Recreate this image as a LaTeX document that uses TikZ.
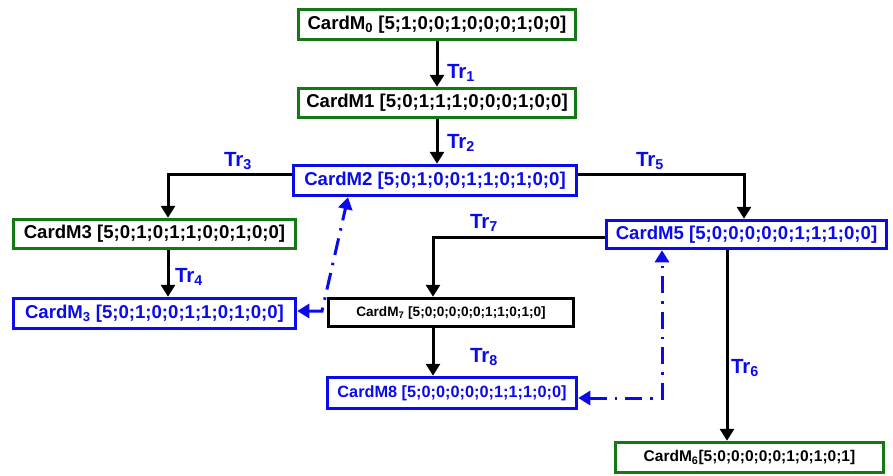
\documentclass[tikz,border=0pt]{standalone}
\usepackage{fontspec}
\setmainfont{Liberation Sans}
\usetikzlibrary{arrows.meta}
\definecolor{bgreen}{RGB}{20,120,20}
\definecolor{bblue}{RGB}{10,10,235}
\begin{document}
\begin{tikzpicture}[x=1pt,y=-1pt,
 box/.style={draw, line width=3.5pt, inner sep=0pt, font=\fontsize{18.6}{20}\selectfont\bfseries},
 gbox/.style={box, draw=bgreen, text=black},
 bbox/.style={box, draw=bblue, text=bblue},
 kbox/.style={box, draw=black, text=black},
 tip/.style={},
 conn/.style={line width=3pt, -{Triangle[length=12pt,width=14pt]}},
 dd/.style={draw=bblue, line width=3pt, dash pattern=on 17pt off 8pt on 2.5pt off 8pt,
   {Triangle[length=12pt,width=14pt]}-{Triangle[length=12pt,width=14pt]}},
 tr/.style={text=bblue, inner sep=0pt, font=\fontsize{20.5}{22}\selectfont\bfseries}
]
\useasboundingbox (0,0) rectangle (893,475);
\node[gbox, minimum width=277pt, minimum height=30pt] (m0) at (437,24.5) {CardM\textsubscript{0} [5;1;0;0;1;0;0;0;1;0;0]};
\node[gbox, minimum width=277pt, minimum height=29pt] (m1) at (437,103) {CardM1 [5;0;1;1;1;0;0;0;1;0;0]};
\node[bbox, minimum width=283pt, minimum height=30pt] (m2) at (435,180.5) {CardM2 [5;0;1;0;0;1;1;0;1;0;0]};
\node[gbox, minimum width=282pt, minimum height=29pt] (m3) at (154.5,234) {CardM3 [5;0;1;0;1;1;0;0;1;0;0]};
\node[bbox, minimum width=282pt, minimum height=30pt] (m3s) at (154.5,313.5) {CardM\textsubscript{3} [5;0;1;0;0;1;1;0;1;0;0]};
\node[kbox, minimum width=245pt, minimum height=28pt, font=\fontsize{13.6}{15}\selectfont\bfseries] (m7) at (451,312.5) {CardM\textsubscript{7} [5;0;0;0;0;0;1;1;0;1;0]};
\node[bbox, minimum width=280pt, minimum height=28pt] (m5) at (746.5,234.5) {CardM5 [5;0;0;0;0;0;1;1;1;0;0]};
\node[bbox, minimum width=249pt, minimum height=31pt, font=\fontsize{16.3}{18}\selectfont\bfseries] (m8) at (452,393) {CardM8 [5;0;0;0;0;0;1;1;1;0;0]};
\node[gbox, minimum width=268pt, minimum height=30pt, font=\fontsize{15.5}{17}\selectfont\bfseries] (m6) at (749.5,457.5) {CardM\textsubscript{6}[5;0;0;0;0;0;1;0;1;0;1]};

\draw[conn] (m0) -- (m1);
\draw[conn] (m1.south) -- (m1.south |- m2.north);
\draw[conn] ([yshift=6.5pt]m2.west) -| ([xshift=13.5pt]m3.north);
\draw[conn] ([xshift=13.5pt]m3.south) -- ([xshift=13.5pt]m3s.north);
\draw[conn] ([yshift=6.5pt]m2.east) -| ([xshift=-2.5pt]m5.north);
\draw[conn] ([yshift=-2.5pt]m5.west) -| ([xshift=-18pt]m7.north);
\draw[conn] ([xshift=-18pt]m7.south) -- ([xshift=-19pt]m8.north);
\draw[conn] ([xshift=-19.5pt]m5.south) -- ([xshift=-22.5pt]m6.north);

\coordinate (k1) at (322,311);
\coordinate (k2) at (662,398);
\draw[dd] ([yshift=2.5pt]m3s.east) -- (k1) -- ([xshift=-87pt]m2.south);
\draw[dd] ([yshift=-5pt]m8.east) -- (k2) -- ([xshift=-84.5pt]m5.south);

\node[tr] (t1) at (461,73) {Tr\textsubscript{1}};
\node[tr] (t2) at (461,143) {Tr\textsubscript{2}};
\node[tr] (t3) at (238,161) {Tr\textsubscript{3}};
\node[tr] (t4) at (189,277) {Tr\textsubscript{4}};
\node[tr] (t5) at (650,161) {Tr\textsubscript{5}};
\node[tr] (t7) at (484,223) {Tr\textsubscript{7}};
\node[tr] (t8) at (484,357) {Tr\textsubscript{8}};
\node[tr] (t6) at (745,368) {Tr\textsubscript{6}};
\end{tikzpicture}
\end{document}
